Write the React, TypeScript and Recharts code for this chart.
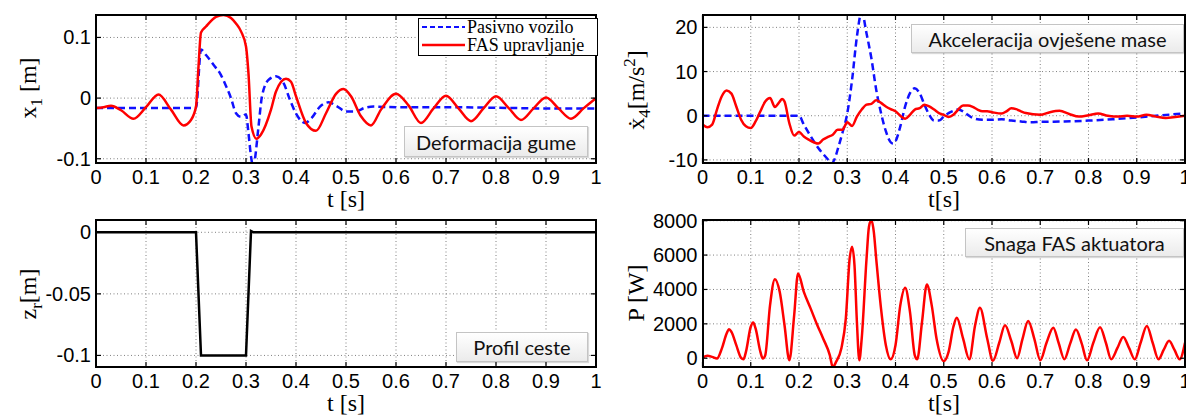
import { LineChart, Line, XAxis, YAxis, CartesianGrid } from "recharts";

// time axis shared by all four panels
const xTicks = [0, 0.1, 0.2, 0.3, 0.4, 0.5, 0.6, 0.7, 0.8, 0.9, 1];

// tyre deformation x1 [m]
const defTicks = [-0.1, 0, 0.1];
const defPassive: [number, number][] = [
  [0, -0.0165], [0.1, -0.0165], [0.195, -0.0165], [0.2, -0.016], [0.21, 0.08], [0.22, 0.071],
  [0.235, 0.055], [0.25, 0.038], [0.26, 0.02], [0.27, 0.0], [0.28, -0.025], [0.29, -0.031],
  [0.3, -0.027], [0.305, -0.058], [0.31, -0.096], [0.315, -0.115], [0.318, -0.1], [0.325, -0.047],
  [0.332, 0.003], [0.345, 0.03], [0.36, 0.036], [0.375, 0.025], [0.388, -0.003], [0.401, -0.027],
  [0.418, -0.041], [0.431, -0.033], [0.448, -0.014], [0.465, -0.007], [0.481, -0.013], [0.5, -0.022],
  [0.518, -0.022], [0.538, -0.016], [0.555, -0.014], [0.6, -0.015], [0.7, -0.015], [0.8, -0.016],
  [0.9, -0.017], [1, -0.017],
];
const defFas: [number, number][] = [
  [0, -0.0164], [0.015, -0.015], [0.03, -0.0126], [0.05, -0.02], [0.075, -0.034], [0.1, -0.015],
  [0.125, 0.006], [0.15, -0.019], [0.175, -0.045], [0.19, -0.036], [0.2, -0.014], [0.205, 0.052],
  [0.21, 0.108], [0.22, 0.118], [0.24, 0.134], [0.255, 0.137], [0.27, 0.132], [0.28, 0.123],
  [0.29, 0.11], [0.3, 0.085], [0.305, 0.04], [0.311, -0.047], [0.321, -0.067], [0.33, -0.06],
  [0.35, -0.019], [0.36, 0.011], [0.38, 0.032], [0.39, 0.027], [0.4, 0.003], [0.42, -0.041],
  [0.44, -0.054], [0.46, -0.025], [0.48, 0.007], [0.495, 0.015], [0.51, 0.003], [0.53, -0.03],
  [0.55, -0.045], [0.57, -0.019], [0.6, 0.007], [0.625, -0.012], [0.65, -0.041], [0.675, -0.017],
  [0.7, 0.004], [0.725, -0.017], [0.75, -0.038], [0.775, -0.017], [0.8, 0.003], [0.825, -0.016],
  [0.85, -0.036], [0.875, -0.017], [0.9, 0.001], [0.925, -0.017], [0.95, -0.034], [0.975, -0.017],
  [1, 0],
];

// sprung mass acceleration [m/s^2]
const accTicks = [-10, 0, 10, 20];
const accPassive: [number, number][] = [
  [0, 0], [0.1, 0], [0.2, 0], [0.21, -2], [0.22, -3.9], [0.24, -7.3], [0.26, -9.9], [0.267, -10.8],
  [0.275, -9.5], [0.28, -7.7], [0.29, -3.9], [0.3, 0.5], [0.31, 8.1], [0.32, 17.9], [0.33, 23.5],
  [0.34, 18.6], [0.35, 13], [0.36, 5.9], [0.37, 0.6], [0.38, -3.5], [0.39, -6], [0.395, -6.3],
  [0.4, -5.8], [0.41, -2.4], [0.42, 2.1], [0.43, 5.1], [0.44, 6.2], [0.45, 5.1], [0.46, 2.5],
  [0.47, 0.2], [0.48, -1.1], [0.49, -1.1], [0.5, -0.2], [0.51, 0.6], [0.52, 1.1], [0.53, 1.4],
  [0.54, 1.0], [0.55, 0.2], [0.56, -0.5], [0.58, -0.9], [0.6, -0.9], [0.62, -0.8], [0.64, -1.1],
  [0.66, -1.3], [0.68, -1.5], [0.7, -1.4], [0.75, -1.3], [0.8, -1.1], [0.85, -0.8], [0.9, -0.4],
  [0.95, 0.1], [1, 0.5],
];
const accFas: [number, number][] = [
  [0, -2], [0.01, -2.6], [0.02, -2], [0.03, 1.4], [0.04, 4.4], [0.05, 5.7], [0.06, 5], [0.07, 2.1],
  [0.08, -0.9], [0.09, -2.4], [0.1, -2.8], [0.11, -1.3], [0.12, 1], [0.13, 3.2], [0.14, 4],
  [0.15, 2], [0.16, 3.2], [0.165, 3.8], [0.17, 3.2], [0.18, -1.7], [0.19, -4.5], [0.2, -3.7],
  [0.21, -4.7], [0.22, -5.4], [0.24, -6.3], [0.25, -5.4], [0.26, -4.8], [0.27, -4.3], [0.28, -3.2],
  [0.29, -3.2], [0.3, -1.5], [0.31, -2.3], [0.32, -0.2], [0.33, 1.4], [0.34, 2.5], [0.35, 2.7],
  [0.36, 3.5], [0.37, 2.9], [0.38, 2.1], [0.39, 1.5], [0.4, 1], [0.41, 0], [0.42, -0.7], [0.43, 0.2],
  [0.44, 1.4], [0.45, 1.7], [0.46, 2.5], [0.47, 2.1], [0.48, 1.4], [0.49, 0.6], [0.5, 0.2],
  [0.51, -0.3], [0.52, 0.2], [0.53, 1.4], [0.54, 2.3], [0.55, 2.3], [0.56, 2], [0.57, 1.4],
  [0.58, 1], [0.59, 1], [0.6, 0.8], [0.62, 0.5], [0.63, 1], [0.64, 1.7], [0.65, 1.5], [0.66, 1],
  [0.67, 0.6], [0.7, 0.2], [0.72, 0.8], [0.74, 1.1], [0.76, 0.4], [0.78, -0.2], [0.8, 0.1],
  [0.82, 0.5], [0.84, 0], [0.86, -0.2], [0.88, 0], [0.9, -0.2], [0.92, 0.2], [0.94, -0.2],
  [0.96, -0.5], [0.98, -0.3], [1, 0],
];

// road profile zr [m]
const roadTicks = [-0.1, -0.05, 0];
const road: [number, number][] = [
  [0, 0], [0.2, 0], [0.21, -0.1], [0.3, -0.1], [0.31, 0.001], [0.315, 0], [1, 0],
];

// actuator power P [W]
const powTicks = [0, 2000, 4000, 6000, 8000];
const power: [number, number][] = [
  [0, 40], [0.01, 140], [0.02, 80], [0.03, -20], [0.04, 560], [0.05, 1440], [0.055, 1690],
  [0.06, 1530], [0.07, 760], [0.08, 20], [0.085, -60], [0.09, 370], [0.1, 1830], [0.105, 2080],
  [0.11, 1730], [0.12, 370], [0.125, -20], [0.13, 170], [0.14, 3090], [0.15, 4600], [0.16, 3860],
  [0.17, 1920], [0.18, -120], [0.19, 2500], [0.198, 4930], [0.21, 3860], [0.224, 2900],
  [0.238, 1920], [0.25, 1150], [0.264, 170], [0.27, -520], [0.277, -200], [0.288, 600],
  [0.297, 2300], [0.305, 5800], [0.31, 6490], [0.315, 5420], [0.32, 2120], [0.325, -120],
  [0.33, 1150], [0.34, 5800], [0.345, 7650], [0.35, 8040], [0.355, 7360], [0.36, 5800],
  [0.37, 2890], [0.38, 760], [0.39, -60], [0.4, 760], [0.41, 3090], [0.42, 4100], [0.43, 2700],
  [0.44, 170], [0.445, -60], [0.455, 2120], [0.465, 4290], [0.475, 3090], [0.485, 1150],
  [0.5, -170], [0.51, 370], [0.52, 1830], [0.527, 2350], [0.54, 1150], [0.553, -60], [0.565, 1920],
  [0.575, 2930], [0.59, 1150], [0.602, -150], [0.615, 900], [0.627, 1920], [0.64, 1000],
  [0.652, 0], [0.663, 1100], [0.675, 2170], [0.688, 1100], [0.7, -120], [0.713, 900],
  [0.727, 1770], [0.738, 900], [0.75, -60], [0.762, 850], [0.774, 1670], [0.786, 850],
  [0.797, -120], [0.81, 900], [0.824, 1800], [0.836, 900], [0.847, -60], [0.86, 600],
  [0.872, 1240], [0.884, 600], [0.896, -60], [0.908, 900], [0.921, 1880], [0.933, 900],
  [0.945, -60], [0.956, 500], [0.967, 1010], [0.978, 500], [0.989, -60], [1, 900],
];

const BLUE = "#1010ff";
const RED = "#ff0000";
const SANS = "'Liberation Sans', Arial, sans-serif";
const SERIF = "'Liberation Serif', 'Times New Roman', 'DejaVu Serif', serif";
const BOXFONT = "Lato, 'Open Sans', sans-serif";

const pts = (a: [number, number][]) => a.map(([t, v]) => ({ t, v }));

type Rect = { l: number; r: number; t: number; b: number };
type Series = { data: [number, number][]; color: string; dash?: string; type?: any };

function Panel({
  x, y, w, h, plot, yDomain, yTicks, series,
}: {
  x: number; y: number; w: number; h: number; plot: Rect;
  yDomain: [number, number]; yTicks: number[]; series: Series[];
}) {
  const lp = { l: plot.l - x, r: plot.r - x, t: plot.t - y, b: plot.b - y };
  const XTick = (p: any) => (
    <g>
      <line x1={p.x} x2={p.x} y1={lp.b} y2={lp.b - 5} stroke="#000" strokeWidth={1.2} />
      <line x1={p.x} x2={p.x} y1={lp.t} y2={lp.t + 5} stroke="#000" strokeWidth={1.2} />
      <text x={p.x} y={lp.b + 21} textAnchor="middle" fontFamily={SANS} fontSize={20} fill="#000">
        {String(p.payload.value)}
      </text>
    </g>
  );
  const YTick = (p: any) => (
    <g>
      <line x1={lp.l} x2={lp.l + 5} y1={p.y} y2={p.y} stroke="#000" strokeWidth={1.2} />
      <line x1={lp.r} x2={lp.r - 5} y1={p.y} y2={p.y} stroke="#000" strokeWidth={1.2} />
      <text x={lp.l - 5} y={p.y + 7} textAnchor="end" fontFamily={SANS} fontSize={20} fill="#000">
        {String(p.payload.value)}
      </text>
    </g>
  );
  return (
    <>
      <div style={{ position: "absolute", left: x, top: y }}>
        <LineChart
          width={w}
          height={h}
          margin={{ top: lp.t, right: w - lp.r, bottom: 0, left: 0 }}
        >
          <CartesianGrid stroke="#808080" strokeDasharray="1 2.5" />
          <XAxis
            type="number"
            dataKey="t"
            domain={[0, 1]}
            ticks={xTicks}
            interval={0}
            allowDataOverflow
            height={h - lp.b}
            axisLine={false}
            tickLine={false}
            tick={XTick}
          />
          <YAxis
            type="number"
            domain={yDomain}
            ticks={yTicks}
            interval={0}
            allowDataOverflow
            width={lp.l}
            axisLine={false}
            tickLine={false}
            tick={YTick}
          />
          {series.map((s, i) => (
            <Line
              key={i}
              data={pts(s.data)}
              dataKey="v"
              type={s.type || "monotone"}
              stroke={s.color}
              strokeWidth={2.5}
              strokeDasharray={s.dash}
              dot={false}
              activeDot={false}
              isAnimationActive={false}
            />
          ))}
        </LineChart>
      </div>
      <div
        style={{
          position: "absolute",
          left: plot.l - 1,
          top: plot.t - 1,
          width: plot.r - plot.l + 2,
          height: plot.b - plot.t + 2,
          border: "2px solid #000",
          boxSizing: "border-box",
          pointerEvents: "none",
        }}
      />
    </>
  );
}

function NoteBox({ left, top, width, height, text }: any) {
  return (
    <div
      style={{
        position: "absolute",
        left,
        top,
        width,
        height,
        boxSizing: "border-box",
        border: "1px solid #c4c4c4",
        background: "linear-gradient(#ffffff, #ebebeb)",
        boxShadow: "1px 1px 1px rgba(0,0,0,0.15)",
        fontFamily: BOXFONT,
        fontSize: 20,
        color: "#111",
        display: "flex",
        alignItems: "center",
        justifyContent: "center",
        whiteSpace: "nowrap",
      }}
    >
      {text}
    </div>
  );
}

const TL: Rect = { l: 96, r: 596, t: 15, b: 163 };
const TR: Rect = { l: 702.5, r: 1185, t: 15, b: 163 };
const BL: Rect = { l: 96, r: 596, t: 220, b: 367 };
const BR: Rect = { l: 702.5, r: 1185, t: 220, b: 367 };

export default function App() {
  return (
    <div style={{ position: "relative", width: 1186, height: 416, overflow: "hidden", background: "#fff" }}>
      <style>{"body{margin:0}"}</style>
      <Panel
        x={0} y={0} w={612} h={208} plot={TL}
        yDomain={[-0.107, 0.137]} yTicks={defTicks}
        series={[
          { data: defPassive, color: BLUE, dash: "7 4" },
          { data: defFas, color: RED },
        ]}
      />
      <Panel
        x={600} y={0} w={620} h={208} plot={TR}
        yDomain={[-10.7, 22.8]} yTicks={accTicks}
        series={[
          { data: accPassive, color: BLUE, dash: "7 4" },
          { data: accFas, color: RED },
        ]}
      />
      <Panel
        x={0} y={208} w={612} h={208} plot={BL}
        yDomain={[-0.1094, 0.01]} yTicks={roadTicks}
        series={[{ data: road, color: "#000", type: "linear" }]}
      />
      <Panel
        x={600} y={208} w={620} h={208} plot={BR}
        yDomain={[-510, 8040]} yTicks={powTicks}
        series={[{ data: power, color: RED }]}
      />

      <svg width={1186} height={416} style={{ position: "absolute", left: 0, top: 0, pointerEvents: "none" }}>
        <g fontFamily={SERIF} fontSize={24} fill="#000" textAnchor="middle">
          <text x={346} y={207}>t [s]</text>
          <text x={944} y={207}>t[s]</text>
          <text x={346} y={411}>t [s]</text>
          <text x={944} y={411}>t[s]</text>
          <text x={36} y={88} transform="rotate(-90 36 88)">
            x<tspan dy={6} fontSize={17}>1</tspan>
            <tspan dy={-6}> [m]</tspan>
          </text>
          <text x={644} y={90} transform="rotate(-90 644 90)">
            ẋ<tspan dy={6} fontSize={17}>4</tspan>
            <tspan dy={-6}>[m/s</tspan>
            <tspan dy={-9} fontSize={17}>2</tspan>
            <tspan dy={9}>]</tspan>
          </text>
          <text x={36} y={294} transform="rotate(-90 36 294)">
            z<tspan dy={6} fontSize={17}>r</tspan>
            <tspan dy={-6}>[m]</tspan>
          </text>
          <text x={644} y={293} transform="rotate(-90 644 293)">P [W]</text>
        </g>
      </svg>

      <div
        style={{
          position: "absolute",
          left: 418,
          top: 18,
          width: 180,
          height: 38,
          boxSizing: "border-box",
          border: "1.5px solid #000",
          background: "#fff",
          fontFamily: SERIF,
          fontSize: 18,
        }}
      >
        <svg width={50} height={36} style={{ position: "absolute", left: 0, top: 0 }}>
          <line x1={3} x2={46} y1={8} y2={8} stroke={BLUE} strokeWidth={2} strokeDasharray="5 3" />
          <line x1={3} x2={46} y1={26} y2={26} stroke={RED} strokeWidth={2.5} />
        </svg>
        <div style={{ position: "absolute", left: 48, top: 0, height: 17, lineHeight: "17px", whiteSpace: "nowrap" }}>
          Pasivno vozilo
        </div>
        <div style={{ position: "absolute", left: 48, top: 18, height: 17, lineHeight: "17px", whiteSpace: "nowrap" }}>
          FAS upravljanje
        </div>
      </div>

      <NoteBox left={404} top={126} width={184} height={31} text="Deformacija gume" />
      <NoteBox left={911} top={24} width={273} height={29} text="Akceleracija ovješene mase" />
      <NoteBox left={456} top={332} width={132} height={30} text="Profil ceste" />
      <NoteBox left={965} top={228} width={219} height={29} text="Snaga FAS aktuatora" />
    </div>
  );
}
